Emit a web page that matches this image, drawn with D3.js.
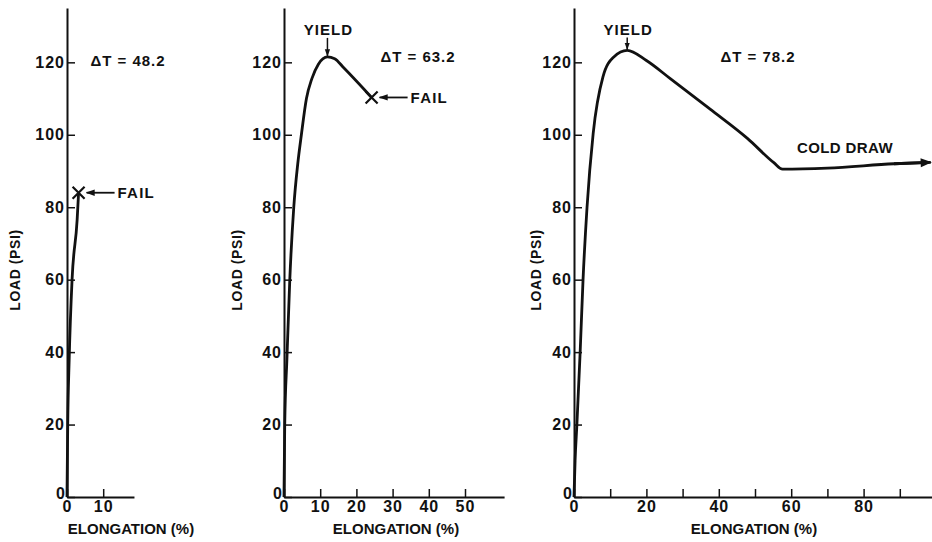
<!DOCTYPE html>
<html>
<head>
<meta charset="utf-8">
<script src="https://cdn.jsdelivr.net/npm/d3@7"></script>
<style>
  body { margin: 0; background: #fff; }
  text { font-family: "Liberation Sans", Arial, sans-serif; font-weight: bold; fill: #111; }
  .axis path, .axis line { stroke: #111; }
</style>
</head>
<body>
<svg id="chart" width="932" height="542"></svg>
<script>
// load / elongation readings, one pair of arrays per panel
var yTicks = [0, 20, 40, 60, 80, 100, 120];

var elong1 = [0, 0.2, 0.6, 1.4, 2.8, 3.2];
var load1  = [0, 20, 38, 60, 76.5, 84];

var elong2 = [0, 0.2, 0.8, 1.6, 2.7, 3.8, 4.8, 6.2, 7.7, 9.5, 12, 14, 16.5, 24.2];
var load2  = [0, 20, 38, 60, 80, 92, 100, 110, 115.5, 119.5, 121.5, 121, 118.5, 110.3];

var elong3 = [0, 0.3, 0.8, 1.7, 2.5, 3.6, 5.3, 8, 11, 14.7, 20, 26.6, 37.7, 47.9, 55.2, 57.6, 70, 88.4, 98];
var load3  = [0, 10, 20, 40, 60, 80, 100.4, 116, 121.5, 123.3, 120.5, 115.5, 107, 99, 92.3, 90.5, 90.8, 92, 92.4];

var xTicks1 = [0, 10];
var xTicks2 = [0, 10, 20, 30, 40, 50];
var xTicks3 = [0, 10, 20, 30, 40, 50, 60, 70, 80, 90];
var xLabels3 = [0, 20, 40, 60, 80];

var deltaT = ["ΔT = 48.2", "ΔT = 63.2", "ΔT = 78.2"];

var svg = d3.select("#chart");

var defs = svg.append("defs");
defs.append("marker")
    .attr("id", "arrow")
    .attr("viewBox", "0 0 10 10")
    .attr("refX", 9).attr("refY", 5)
    .attr("markerWidth", 5).attr("markerHeight", 5)
    .attr("markerUnits", "strokeWidth")
    .attr("orient", "auto")
  .append("path")
    .attr("d", "M0,1.5L10,5L0,8.5Z")
    .attr("fill", "#111");
defs.append("marker")
    .attr("id", "bigarrow")
    .attr("viewBox", "0 0 10 10")
    .attr("refX", 9).attr("refY", 5)
    .attr("markerWidth", 8).attr("markerHeight", 4)
    .attr("markerUnits", "strokeWidth")
    .attr("orient", "auto")
  .append("path")
    .attr("d", "M0,1L10,5L0,9Z")
    .attr("fill", "#111");

var y = d3.scaleLinear().domain([0, 135]).range([497, 8]);

var panels = [
  {left: 67,  xmax: 18.5, xs: elong1, ys: load1, ticks: xTicks1, labels: xTicks1, dt: deltaT[0], dtx: 128, dty: 61, ylab: 15,  xlab: 131},
  {left: 284, xmax: 60.8, xs: elong2, ys: load2, ticks: xTicks2, labels: xTicks2, dt: deltaT[1], dtx: 418, dty: 57, ylab: 237, xlab: 396},
  {left: 574, xmax: 99.5, xs: elong3, ys: load3, ticks: xTicks3, labels: xLabels3, dt: deltaT[2], dtx: 758, dty: 57, ylab: 536, xlab: 754}
];

var pxPerPct = 3.62;

panels.forEach(function(p, i){
  var x = d3.scaleLinear().domain([0, p.xmax]).range([p.left, p.left + p.xmax * pxPerPct]);
  p.x = x;
  var g = svg.append("g");

  var yaxis = d3.axisLeft(y)
      .tickValues(yTicks)
      .tickSizeInner(-8)
      .tickSizeOuter(0)
      .tickPadding(2);
  var ga = g.append("g")
      .attr("class", "axis")
      .attr("transform", "translate(" + p.left + ",0)")
      .call(yaxis);
  ga.select(".domain").attr("stroke-width", 2);
  ga.selectAll(".tick line").attr("stroke-width", 1.5);
  ga.selectAll("text").attr("font-size", 16).attr("letter-spacing", 1)
      .attr("font-family", null).attr("fill", null);
  ga.selectAll(".tick").filter(function(d){ return d === 0; }).select("text")
      .attr("dy", "0.1em").attr("x", -1);

  var labs = p.labels;
  var xaxis = d3.axisBottom(x)
      .tickValues(p.ticks)
      .tickSizeInner(-8)
      .tickSizeOuter(0)
      .tickPadding(4)
      .tickFormat(function(d){ return labs.indexOf(d) >= 0 ? d : ""; });
  var gx = g.append("g")
      .attr("class", "axis")
      .attr("transform", "translate(0," + y(0) + ")")
      .call(xaxis);
  gx.select(".domain").attr("stroke-width", 2);
  gx.selectAll(".tick line").attr("stroke-width", 1.5);
  gx.selectAll("text").attr("font-size", 16).attr("letter-spacing", 1)
      .attr("font-family", null).attr("fill", null);

  // axis titles
  g.append("text")
      .attr("transform", "translate(" + p.ylab + ",270) rotate(-90)")
      .attr("text-anchor", "middle")
      .attr("dy", "0.35em")
      .attr("font-size", 14)
      .attr("letter-spacing", 0.6)
      .text("LOAD (PSI)");
  g.append("text")
      .attr("x", p.xlab)
      .attr("y", 529)
      .attr("text-anchor", "middle")
      .attr("dy", "0.35em")
      .attr("font-size", 15)
      .text("ELONGATION (%)");

  var pts = p.xs.map(function(v, k){ return [v, p.ys[k]]; });
  var line = d3.line()
      .x(function(d){ return x(d[0]); })
      .y(function(d){ return y(d[1]); })
      .curve(d3.curveMonotoneX);

  g.append("path")
      .attr("d", line(pts))
      .attr("fill", "none")
      .attr("stroke", "#111")
      .attr("stroke-width", 2.8)
      .attr("stroke-linejoin", "round");

  g.append("text")
      .attr("x", p.dtx).attr("y", p.dty)
      .attr("text-anchor", "middle")
      .attr("dy", "0.35em")
      .attr("font-size", 15)
      .attr("letter-spacing", 1)
      .text(p.dt);
});

// FAIL markers on panels 1 and 2
[0, 1].forEach(function(i){
  var p = panels[i];
  var n = p.xs.length - 1;
  var fx = p.x(p.xs[n]), fy = y(p.ys[n]);
  var g = svg.append("g");
  g.append("path")
      .attr("d", "M" + (fx-6) + "," + (fy-6) + "L" + (fx+6) + "," + (fy+6) +
                 "M" + (fx+6) + "," + (fy-6) + "L" + (fx-6) + "," + (fy+6))
      .attr("stroke", "#111").attr("stroke-width", 2.2).attr("fill", "none");
  g.append("line")
      .attr("x1", fx + 36).attr("x2", fx + 8)
      .attr("y1", fy).attr("y2", fy)
      .attr("stroke", "#111").attr("stroke-width", 1.8)
      .attr("marker-end", "url(#arrow)");
  g.append("text")
      .attr("x", fx + 39).attr("y", fy)
      .attr("dy", "0.35em")
      .attr("font-size", 15)
      .attr("letter-spacing", 1.2)
      .text("FAIL");
});

// YIELD markers on panels 2 and 3
var yieldOffset = [0, 27, 21];
[1, 2].forEach(function(i){
  var p = panels[i];
  var k = d3.maxIndex(p.ys);
  var px = p.x(p.xs[k]), py = y(p.ys[k]);
  var g = svg.append("g");
  g.append("line")
      .attr("x1", px).attr("x2", px)
      .attr("y1", py - yieldOffset[i] + 8).attr("y2", py - 1)
      .attr("stroke", "#111").attr("stroke-width", 1.5)
      .attr("marker-end", "url(#arrow)");
  g.append("text")
      .attr("x", px + 1).attr("y", py - yieldOffset[i])
      .attr("text-anchor", "middle")
      .attr("dy", "0.35em")
      .attr("font-size", 15)
      .attr("letter-spacing", 1)
      .text("YIELD");
});

// cold draw arrow head and label on panel 3
var p3 = panels[2];
var n3 = p3.xs.length - 1;
svg.append("line")
    .attr("x1", p3.x(p3.xs[n3 - 1])).attr("y1", y(p3.ys[n3 - 1]))
    .attr("x2", p3.x(p3.xs[n3]) + 2).attr("y2", y(p3.ys[n3]))
    .attr("stroke", "#111").attr("stroke-width", 2.8)
    .attr("marker-end", "url(#bigarrow)");
svg.append("text")
    .attr("x", 845).attr("y", 148)
    .attr("text-anchor", "middle")
    .attr("dy", "0.35em")
    .attr("font-size", 15)
    .attr("letter-spacing", 0.4)
    .text("COLD DRAW");
</script>
</body>
</html>
